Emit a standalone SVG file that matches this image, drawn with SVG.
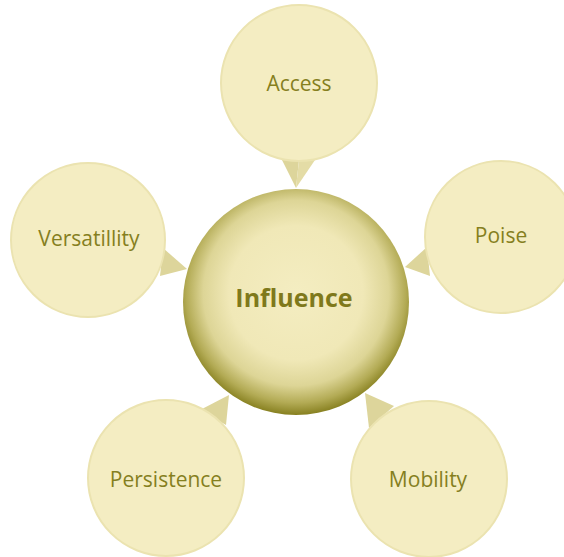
<svg xmlns="http://www.w3.org/2000/svg" width="564" height="557" viewBox="0 0 564 557">
<defs>
<radialGradient id="cg" cx="0.5" cy="0.46" r="0.54">
<stop offset="0" stop-color="#f4edc1"/>
<stop offset="0.55" stop-color="#f0e8b7"/>
<stop offset="0.76" stop-color="#ddd596"/>
<stop offset="0.9" stop-color="#b3ab55"/>
<stop offset="1" stop-color="#878020"/>
</radialGradient>
</defs>
<style>
.bub{fill:#f4edc2;stroke:#ebe3b0;stroke-width:2}
.ptr{fill:#ddd59b}
.ptr2{fill:#e4dca6}
.lbl{font-family:"Open Sans","Noto Sans",sans-serif;font-size:21px;fill:#857f1e;text-anchor:middle}
.main{font-family:"Open Sans","Noto Sans",sans-serif;font-size:25px;font-weight:bold;fill:#7f791b;text-anchor:middle}
</style>
<rect width="564" height="557" fill="#ffffff"/>
<g id="connectors">
<polygon class="ptr" points="282,160 299,160 296,188"/>
<polygon class="ptr2" points="299,160 315,160 296,188"/>
<polygon class="ptr" points="163,248 160,276 187,269"/>
<polygon class="ptr" points="427,247 430,276 405,267"/>
<polygon class="ptr" points="200,410 226,425 229,395"/>
<polygon class="ptr" points="365,393 369,428 394,406"/>
</g>
<g id="access">
<circle class="bub" cx="299" cy="83" r="78"/>
<text class="lbl" x="299" y="91">Access</text>
</g>
<g id="versatillity">
<circle class="bub" cx="88" cy="240" r="77"/>
<text class="lbl" x="89" y="246">Versatillity</text>
</g>
<g id="poise">
<circle class="bub" cx="501" cy="237" r="76"/>
<text class="lbl" x="501" y="243">Poise</text>
</g>
<g id="persistence">
<circle class="bub" cx="166" cy="478" r="78"/>
<text class="lbl" x="166" y="487">Persistence</text>
</g>
<g id="mobility">
<circle class="bub" cx="429" cy="479" r="78"/>
<text class="lbl" x="428" y="487">Mobility</text>
</g>
<g id="influence">
<circle cx="296" cy="302" r="113" fill="url(#cg)"/>
<text class="main" x="294" y="307">Influence</text>
</g>
</svg>
